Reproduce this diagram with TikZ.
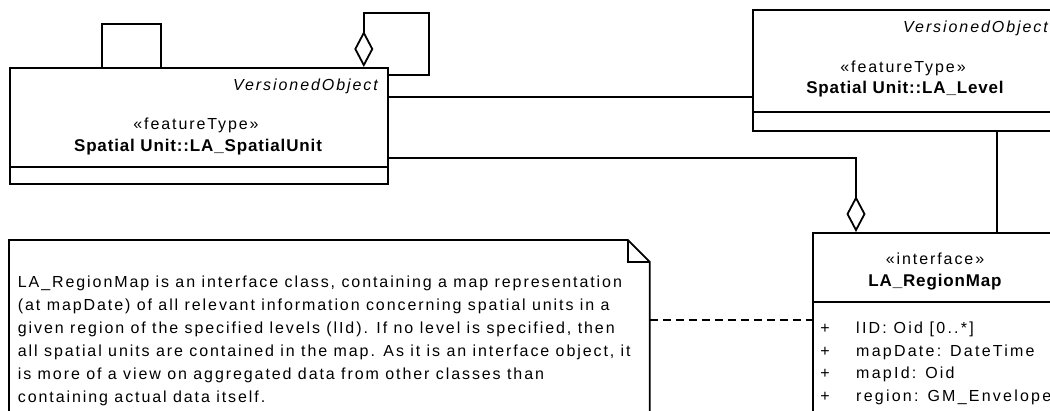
\documentclass[tikz,border=0pt]{standalone}
\usepackage{fontspec}
\setmainfont{Liberation Sans}
\newfontfamily\umlfont[LetterSpace=12]{Liberation Sans}
\newfontfamily\attrfont[LetterSpace=14]{Liberation Sans}
\newfontfamily\namefont[LetterSpace=5]{Liberation Sans}
\usetikzlibrary{arrows.meta}

\tikzset{
  umlclass/.style={draw, anchor=north west, inner sep=0pt},
  aggr/.style={-{Diamond[open, length=36pt, width=19pt]}},
  clname/.style={font=\namefont\fontsize{17}{20}\selectfont\bfseries},
}

\begin{document}
\begin{tikzpicture}[x=1pt, y=-1pt, line width=1.8pt, font=\umlfont\fontsize{16}{23}\selectfont]
  \useasboundingbox (0,0) rectangle (1050,410);
  \clip (0,0) rectangle (1050,410);
  % spatial unit
  \node[umlclass, minimum width=378pt, minimum height=116pt] (su) at (9,67) {};
  \draw ([yshift=18pt]su.south west) -- ([yshift=18pt]su.south east);
  \node[anchor=east] (suver) at (382,86) {\itshape VersionedObject};
  \node (suster) at (196,125) {«featureType»};
  \node[clname] (suname) at (198,147) {Spatial Unit::LA\_SpatialUnit};
  % level
  \node[umlclass, minimum width=306pt, minimum height=121pt] (lv) at (752,9) {};
  \draw ([yshift=20pt]lv.south west) -- ([yshift=20pt]lv.south east);
  \node[anchor=east] (lvver) at (1052,28) {\itshape VersionedObject};
  \node (lvster) at (903,68) {«featureType»};
  \node[clname] (lvname) at (905,89) {Spatial Unit::LA\_Level};
  % region map
  \node[umlclass, minimum width=246pt, minimum height=240pt] (rm) at (812,232) {};
  \draw ([yshift=-70pt]rm.north west) -- ([yshift=-70pt]rm.north east);
  \node (rmster) at (935,259) {«interface»};
  \node[clname] (rmname) at (935,282) {LA\_RegionMap};
  \foreach \attr [count=\i] in {{lID: Oid [0..*]}, mapDate: DateTime, mapId: Oid, region: GM\_Envelope} {
    \node[anchor=base] (vis\i) at (825,311+22.5*\i) {+};
    \node[anchor=base west, font=\attrfont\fontsize{16}{20}\selectfont] (attr\i) at (852,311+22.5*\i) {\attr};
  }
  % note
  \node[anchor=north west, minimum width=639pt, minimum height=200pt] (note) at (9,240) {};
  \draw (note.south west) |- ([xshift=-22pt]note.north east) -- ([yshift=-22pt]note.north east) -- (note.south east);
  \draw ([xshift=-22pt]note.north east) |- ([yshift=-22pt]note.north east);
  \node[anchor=north west, align=left, inner sep=0pt] (notetext) at (17,275) {LA\_RegionMap is an interface class, containing a map representation\\
    (at mapDate) of all relevant information concerning spatial units in a\\
    given region of the specified levels (lId). If no level is specified, then\\
    all spatial units are contained in the map. As it is an interface object, it\\
    is more of a view on aggregated data from other classes than\\
    containing actual data itself.};
  % connectors
  \draw ([xshift=93pt]su.north west) |- ([xshift=152pt,yshift=43pt]su.north west) -- ([xshift=152pt]su.north west);
  \draw[aggr] ([yshift=-8pt]su.north east) -| ([xshift=40pt,yshift=54pt]su.north east) -| ([xshift=-25pt]su.north east);
  \draw ([yshift=-30pt]su.north east) -- ([yshift=-30pt]su.north east -| lv.west);
  \draw[aggr] ([yshift=27pt]su.south east) -| ([xshift=44pt]rm.north west);
  \draw ([xshift=91pt]lv.south) -- ([xshift=91pt]lv.south |- rm.north);
  \draw[dashed, dash pattern=on 8pt off 5pt] ([yshift=-80pt]note.north east) -- ([yshift=-80pt]note.north east -| rm.west);
\end{tikzpicture}
\end{document}
